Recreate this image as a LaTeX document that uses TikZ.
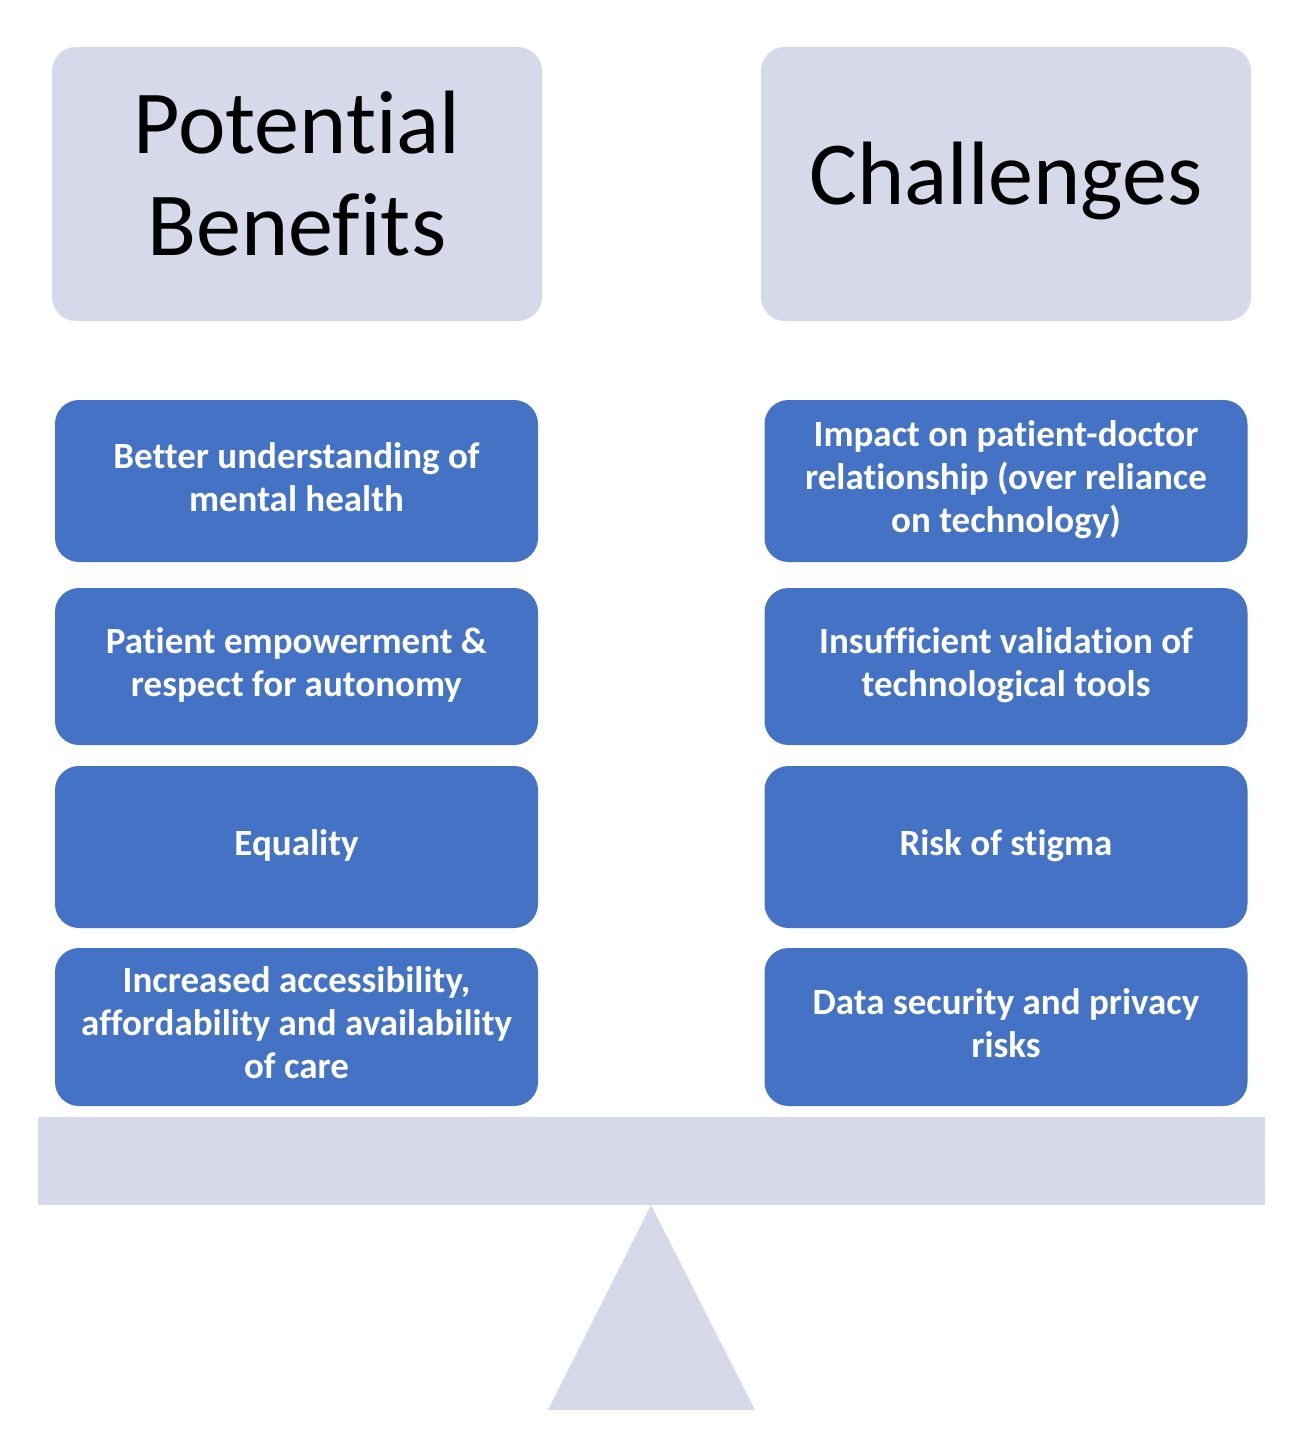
\documentclass[tikz,border=0pt]{standalone}
\usepackage{fontspec}
\setmainfont[Ligatures=NoCommon]{Carlito}
\definecolor{lightlav}{HTML}{D5D9EA}
\definecolor{boxblue}{HTML}{4472C4}
\newcommand{\stacklines}[2][0pt]{\raisebox{#1}{\begin{tabular}{@{}c@{}}#2\end{tabular}}}
\begin{document}
\begin{tikzpicture}[x=0.5pt,y=-0.5pt,
  header/.style={fill=lightlav, rounded corners=12pt, minimum width=245pt, minimum height=137pt, align=center, font=\fontsize{45}{51}\selectfont, text=black, inner sep=0pt},
  item/.style={fill=boxblue, rounded corners=12pt, minimum width=241.5pt, align=center, font=\bfseries\fontsize{18.5}{21.5}\selectfont, text=white, inner sep=0pt}]
\useasboundingbox (0,0) rectangle (1299,1435);
\fill[white] (0,0) rectangle (1299,1435);
% headers
\node[header] (hl) at (297,184) {\stacklines[-4pt]{Potential\\Benefits}};
\node[header] (hr) at (1006,184) {\stacklines[-5pt]{Challenges}};
% left items
\node[item, minimum height=81pt] (l1) at (296.5,481) {\stacklines{Better understanding of\\mental health}};
\node[item, minimum height=78.5pt] (l2) at (296.5,666.5) {\stacklines{Patient empowerment \&\\respect for autonomy}};
\node[item, minimum height=81pt] (l3) at (296.5,847) {\stacklines{Equality}};
\node[item, minimum height=79pt] (l4) at (296.5,1027) {\stacklines{Increased accessibility,\\affordability and availability\\of care}};
% right items
\node[item, minimum height=81pt] (r1) at (1006,481) {\stacklines{Impact on patient-doctor\\relationship (over reliance\\on technology)}};
\node[item, minimum height=78.5pt] (r2) at (1006,666.5) {\stacklines{Insufficient validation of\\technological tools}};
\node[item, minimum height=81pt] (r3) at (1006,847) {\stacklines{Risk of stigma}};
\node[item, minimum height=79pt] (r4) at (1006,1027) {\stacklines{Data security and privacy\\risks}};
% beam and fulcrum
\fill[lightlav] (38,1117) rectangle (1265,1205);
\fill[lightlav] (651,1205) -- (755,1410) -- (548,1410) -- cycle;
\end{tikzpicture}
\end{document}
